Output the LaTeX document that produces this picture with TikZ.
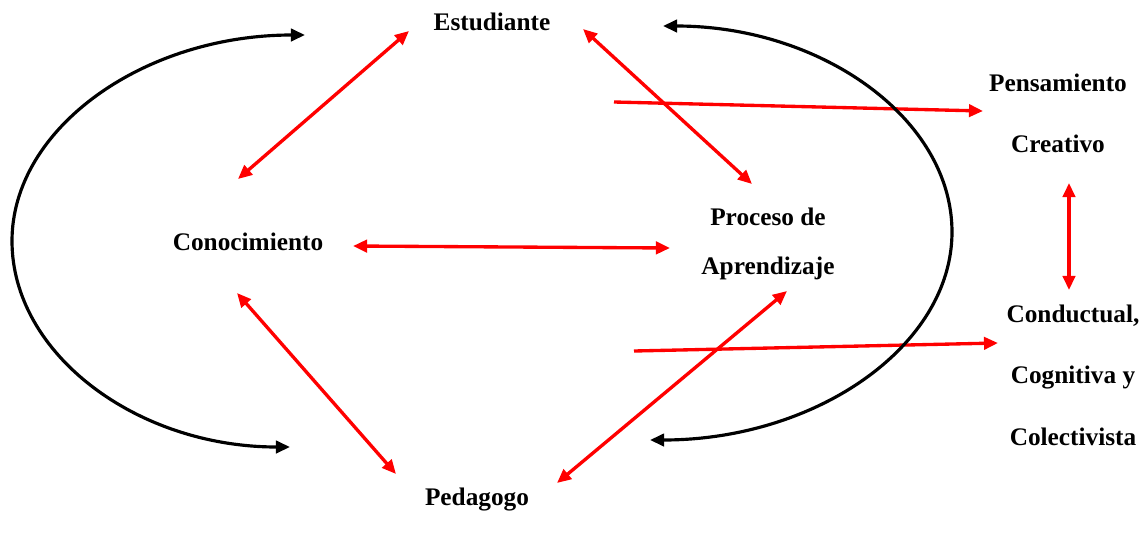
\documentclass[tikz,border=0pt]{standalone}
\usepackage{fontspec}
\setmainfont{Liberation Serif}
\usetikzlibrary{arrows.meta}
\tikzset{
  concepto/.style={font=\fontsize{14.4}{16}\selectfont\bfseries, inner sep=1pt, align=center},
  relacion/.style={red, line width=1.9pt, {Triangle[length=8pt,width=7pt]}-{Triangle[length=8pt,width=7pt]}},
  flujo/.style={red, line width=1.9pt, -{Triangle[length=8pt,width=7pt]}},
  ciclo/.style={black, line width=1.8pt, {Triangle[length=8pt,width=7pt]}-{Triangle[length=8pt,width=7pt]}}
}
\begin{document}
\begin{tikzpicture}[x=0.02cm, y=-0.02cm]
  \useasboundingbox (0,0) rectangle (1147,555);
  % conceptos
  \node[concepto] (est) at (492,22) {Estudiante};
  \node[concepto] (con) at (248,242) {Conocimiento};
  \node[concepto, font=\fontsize{14.4}{27.8}\selectfont\bfseries] (pro) at (768,244) {Proceso de\\Aprendizaje};
  \node[concepto] (ped) at (477,500) {Pedagogo};
  \node[concepto, font=\fontsize{14.4}{34.6}\selectfont\bfseries] (pen) at (1058,113) {Pensamiento\\Creativo};
  \node[concepto, font=\fontsize{14.4}{35}\selectfont\bfseries] (cond) at (1073,375) {Conductual,\\Cognitiva y\\Colectivista};
  % extremos de las flechas
  \coordinate (est-izq) at (409,31);
  \coordinate (est-der) at (583,29);
  \coordinate (con-arr) at (238,179);
  \coordinate (con-der) at (353,246);
  \coordinate (con-aba) at (237,293);
  \coordinate (pro-arr) at (752,184);
  \coordinate (pro-izq) at (670,248);
  \coordinate (pro-aba) at (787,291);
  \coordinate (ped-izq) at (396,474);
  \coordinate (ped-der) at (557,483);
  \coordinate (pen-aba) at (1069,183);
  \coordinate (cond-arr) at (1069,290);
  \coordinate (sal-pen) at (614,102);
  \coordinate (pen-izq) at (983,111);
  \coordinate (sal-cond) at (634,351);
  \coordinate (cond-izq) at (998,343);
  \coordinate (ciclo-izq-a) at (290,447);
  \coordinate (ciclo-izq-b) at (305,35);
  \coordinate (ciclo-der-a) at (663,26);
  \coordinate (ciclo-der-b) at (650,440);
  % relaciones
  \draw[relacion] (est-izq) -- (con-arr);
  \draw[relacion] (est-der) -- (pro-arr);
  \draw[relacion] (con-der) -- (pro-izq);
  \draw[relacion] (con-aba) -- (ped-izq);
  \draw[relacion] (pro-aba) -- (ped-der);
  \draw[relacion] (pen-aba) -- (cond-arr);
  \draw[flujo] (sal-pen) -- (pen-izq);
  \draw[flujo] (sal-cond) -- (cond-izq);
  % ciclos
  \draw[ciclo] (ciclo-izq-a) .. controls (137,447) and (12,354) .. (12,241)
    .. controls (12,128) and (144,35) .. (ciclo-izq-b);
  \draw[ciclo] (ciclo-der-a) .. controls (822,26) and (952,119) .. (952,232)
    .. controls (952,346) and (816,440) .. (ciclo-der-b);
\end{tikzpicture}
\end{document}
